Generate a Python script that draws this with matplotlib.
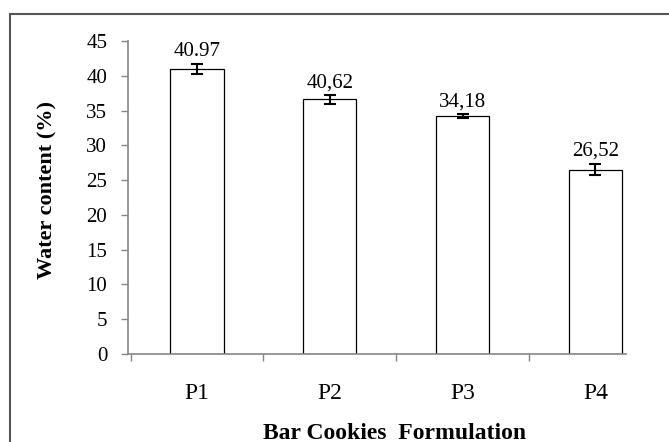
import matplotlib.pyplot as plt
from matplotlib.patches import Rectangle

# Kadar air bar cookies
formulasi = ["P1", "P2", "P3", "P4"]
kadar_air = [40.97, 36.62, 34.18, 26.52]
galat = [0.75, 0.65, 0.3, 0.85]
label_nilai = ["40.97", "40,62", "34,18", "26,52"]

plt.rcParams['font.family'] = ['Liberation Serif', 'DejaVu Serif']
abu = "#868686"

fig = plt.figure(figsize=(6.69, 4.42), dpi=100)
ax = fig.add_axes([128 / 669, 1 - 354 / 442, 498 / 669, 313 / 442])

x = range(len(formulasi))
ax.bar(x, kadar_air, 0.4, color="white", edgecolor="black", linewidth=0.9,
       yerr=galat, error_kw=dict(ecolor="black", elinewidth=1.5, capsize=4, capthick=1.5))

for xi, v, e, t in zip(x, kadar_air, galat, label_nilai):
    ax.annotate(t, (xi, v + e), xytext=(0, 5.5), textcoords="offset points",
                ha="center", va="baseline", fontsize=15)

ax.set_ylim(0, 45)
ax.set_yticks(range(0, 46, 5))
ax.set_xlim(-0.52, 3.23)
ax.set_xticks([-0.5, 0.5, 1.5, 2.5])
ax.set_xticklabels([])
ax.set_xticks(list(x), minor=True)
ax.set_xticklabels(formulasi, minor=True)

for s in ["top", "right"]:
    ax.spines[s].set_visible(False)
for s in ["left", "bottom"]:
    ax.spines[s].set_color(abu)
    ax.spines[s].set_linewidth(1.2)

ax.tick_params(axis="y", length=5, width=1, color=abu, pad=10, labelsize=15)
ax.tick_params(axis="x", which="major", length=5, width=1, color=abu)
ax.tick_params(axis="x", which="minor", length=0, pad=21, labelsize=17)

fig.text(47 / 669, 1 - 190 / 442, "Water content (%)", rotation=90,
         ha="center", va="center", fontsize=16, fontweight="bold")
fig.text(395 / 669, 1 - 439 / 442, "Bar Cookies  Formulation",
         ha="center", va="baseline", fontsize=17, fontweight="bold")

# bingkai luar (terpotong di kanan dan bawah)
fig.add_artist(Rectangle((10 / 669, -0.2), 1.2, 1.2 - 14 / 442,
                         transform=fig.transFigure, fill=False,
                         edgecolor="#555555", linewidth=1.5, clip_on=False))

fig.savefig("out.png", dpi=100)
